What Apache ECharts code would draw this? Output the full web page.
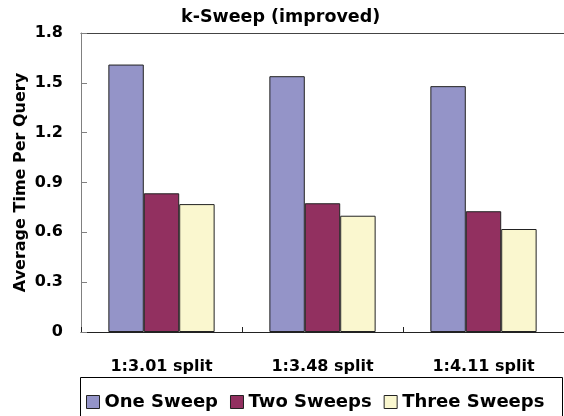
<!DOCTYPE html>
<html><head><meta charset="utf-8">
<script src="https://cdn.jsdelivr.net/npm/echarts@6/dist/echarts.min.js"></script>
<style>html,body{margin:0;padding:0;background:#fff}#c{width:564px;height:416px}</style>
</head><body><div id="c"></div>
<script>
var categories = ['1:3.01 split', '1:3.48 split', '1:4.11 split'];
var seriesNames = ['One Sweep', 'Two Sweeps', 'Three Sweeps'];
var oneSweep = [1.61, 1.54, 1.48];
var twoSweeps = [0.835, 0.775, 0.727];
var threeSweeps = [0.77, 0.70, 0.62];
var yTicks = [0, 0.3, 0.6, 0.9, 1.2, 1.5, 1.8];

var FONT = 'DejaVu Sans';
var colors = ['#9494c8', '#923060', '#faf7cf'];
var chart = echarts.init(document.getElementById('c'), null, {renderer: 'canvas'});
function bar(name, data, color) {
  return {
    name: name, type: 'bar', data: data, barGap: '0%', barCategoryGap: '34%',
    itemStyle: {color: color, borderColor: '#222', borderWidth: 1},
    emphasis: {disabled: true}
  };
}
chart.setOption({
  animation: false,
  color: colors,
  title: {
    text: 'k-Sweep (improved)', left: 181, top: 8, padding: 0,
    textStyle: {fontFamily: FONT, fontWeight: 'bold', fontSize: 17.5, color: '#000'}
  },
  grid: {left: 81, top: 33, width: 486, height: 299, containLabel: false},
  legend: {
    left: 86, top: 393, padding: 0, itemWidth: 13, itemHeight: 13, itemGap: 12,
    icon: 'rect',
    itemStyle: {borderColor: '#222', borderWidth: 1},
    textStyle: {fontFamily: FONT, fontWeight: 'bold', fontSize: 18, color: '#000', padding: [0, 0, 0, 0]},
    data: seriesNames
  },
  graphic: [{
    type: 'rect', left: 80, top: 377, z: -1,
    shape: {width: 482, height: 60},
    style: {fill: '#fff', stroke: '#000', lineWidth: 1}
  }],
  xAxis: [{
    type: 'category', data: categories,
    axisLine: {lineStyle: {color: '#222', width: 1}},
    axisTick: {show: true, inside: true, length: 5, lineStyle: {color: '#222'}},
    axisLabel: {margin: 27, fontFamily: FONT, fontWeight: 'bold', fontSize: 16, color: '#000'}
  }, {
    type: 'category', data: categories, position: 'top',
    axisLine: {show: true, lineStyle: {color: '#444', width: 1}},
    axisTick: {show: false}, axisLabel: {show: false}
  }],
  yAxis: {
    type: 'value', min: yTicks[0], max: yTicks[yTicks.length - 1], interval: 0.3,
    name: 'Average Time Per Query', nameLocation: 'middle', nameGap: 52,
    nameMoveOverlap: false,
    nameTextStyle: {fontFamily: FONT, fontWeight: 'bold', fontSize: 16, color: '#000'},
    axisLine: {show: true, lineStyle: {color: '#808080', width: 1}},
    axisTick: {show: true, inside: true, length: 6, lineStyle: {color: '#808080'}},
    splitLine: {show: false},
    axisLabel: {
      margin: 18, fontFamily: FONT, fontWeight: 'bold', fontSize: 16, color: '#000',
      formatter: function (v) { return v === 0 ? '0' : v.toFixed(1); }
    }
  },
  series: [
    bar(seriesNames[0], oneSweep, colors[0]),
    bar(seriesNames[1], twoSweeps, colors[1]),
    bar(seriesNames[2], threeSweeps, colors[2])
  ]
});
</script></body></html>
